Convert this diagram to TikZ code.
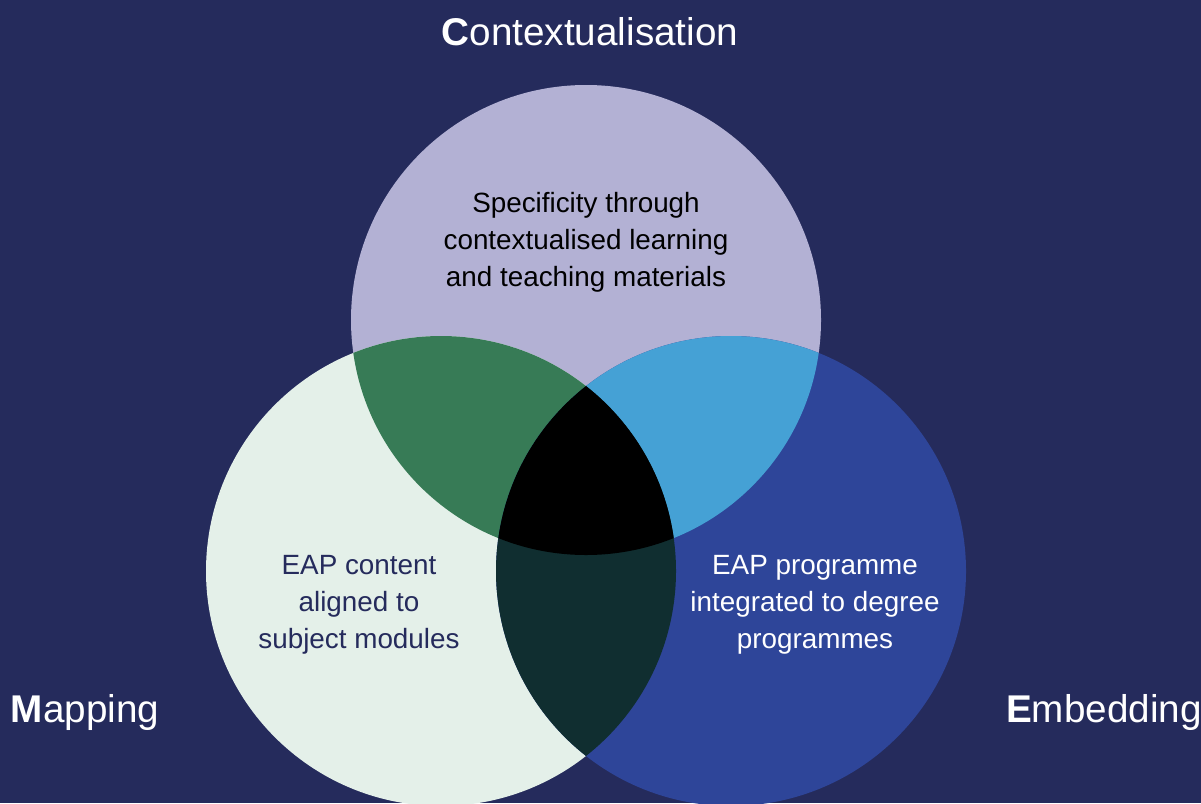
\documentclass[tikz,border=0pt]{standalone}
\usepackage{fontspec}
\setmainfont{Liberation Sans}
\usepackage{xcolor}
\usepackage{tikz}

\definecolor{navy}{RGB}{37,43,92}
\definecolor{lavender}{RGB}{179,177,212}
\definecolor{mint}{RGB}{228,240,233}
\definecolor{royal}{RGB}{46,69,153}
\definecolor{leaf}{RGB}{55,123,86}
\definecolor{sky}{RGB}{69,161,213}
\definecolor{deepteal}{RGB}{16,46,48}

\begin{document}
\begin{tikzpicture}[
  x=0.025cm, y=-0.025cm,
  setlabel/.style={text=white, font=\fontsize{27.5}{32}\selectfont},
  body/.style={align=center, font=\fontsize{19.8}{26.3}\selectfont}
]
% canvas
\clip (0,0) rectangle (1201,803);
\fill[navy] (0,0) rectangle (1201,803);

% circle centres
\coordinate (cctx) at (586,320);
\coordinate (cmap) at (441,571);
\coordinate (cemb) at (731,571);
\def\rad{235}

% the three sets
\fill[lavender] (cctx) circle (\rad);
\fill[mint] (cmap) circle (\rad);
\fill[royal] (cemb) circle (\rad);

% pairwise overlaps
\begin{scope}
  \clip (cctx) circle (\rad);
  \fill[leaf] (cmap) circle (\rad);
  \fill[sky] (cemb) circle (\rad);
\end{scope}
\begin{scope}
  \clip (cmap) circle (\rad);
  \fill[deepteal] (cemb) circle (\rad);
  % centre, all three
  \clip (cemb) circle (\rad);
  \fill[black] (cctx) circle (\rad);
\end{scope}

% set names
\node[setlabel] (ctx) at (590,32) {\textbf{C}ontextualisation};
\node[setlabel] (map) at (85,712) {\textbf{M}apping};
\node[setlabel] (emb) at (1104,712) {\textbf{E}mbedding};

% descriptions
\node[body, text=black] (ctxtext) at (586,242)
  {Specificity through\\contextualised learning\\and teaching materials};
\node[body, text=navy] (maptext) at (359,605)
  {EAP content\\aligned to\\subject modules};
\node[body, text=white] (embtext) at (815,605)
  {EAP programme\\integrated to degree\\programmes};
\end{tikzpicture}
\end{document}
